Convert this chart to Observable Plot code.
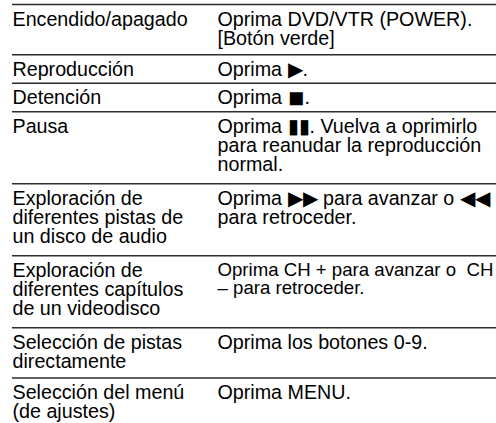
<!DOCTYPE html>
<html>
<head>
<meta charset="utf-8">
<script src="https://cdn.jsdelivr.net/npm/d3@7"></script>
<script src="https://cdn.jsdelivr.net/npm/@observablehq/plot@0.6"></script>
<style>
  html, body { margin: 0; padding: 0; background: #fff; }
</style>
</head>
<body>
<div id="chart"></div>
<script>
// Table content
const labels = [
  "Encendido/apagado",
  "Reproducción",
  "Detención",
  "Pausa",
  "Exploración de\ndiferentes pistas de\nun disco de audio",
  "Exploración de\ndiferentes capítulos\nde un videodisco",
  "Selección de pistas\ndirectamente",
  "Selección del menú\n(de ajustes)"
];
const actions = [
  "Oprima DVD/VTR (POWER).\n[Botón verde]",
  "Oprima \u25B6.",
  "Oprima \u25FC.",
  "Oprima \u25AE\u25AE. Vuelva a oprimirlo\npara reanudar la reproducción\nnormal.",
  "Oprima \u25B6\u25B6 para avanzar o \u25C0\u25C0\npara retroceder.",
  "Oprima CH + para avanzar o  CH\n– para retroceder.",
  "Oprima los botones 0-9.",
  "Oprima MENU."
];
const columns = ["label", "action"];

// Layout derived from line counts
const fontFamily = "'Liberation Sans', Arial, Helvetica, sans-serif";
const baseSize = 19.7;
const width = 496;
const colX = {label: 12, action: 217};
const rowPad = 0.31;      // extra row space, in line units
const unitPx = 21.75;     // pixels per line unit

// shrink a cell's font only if its longest line would overflow its column
const ctx = document.createElement("canvas").getContext("2d");
ctx.font = `${baseSize}px ${fontFamily}`;
const colRight = {label: colX.action - 6, action: width - 3};
function fitSize(text, col) {
  const w = d3.max(text.split("\n"), l => ctx.measureText(l).width);
  const avail = colRight[col] - colX[col];
  return w > avail ? baseSize * avail / w : baseSize;
}

let acc = 0;
const rows = labels.map((label, i) => {
  const n = Math.max(label.split("\n").length, actions[i].split("\n").length);
  const r = {label, action: actions[i], top: acc, n};
  acc += n + rowPad;
  return r;
});
const total = acc;
const cells = rows.flatMap(r => columns.map(c => ({col: c, top: r.top, text: r[c], size: fitSize(r[c], c)})));

const chart = Plot.plot({
  width,
  height: 423,
  margin: 0,
  marginLeft: 12,
  x: {type: "point", domain: columns, range: [colX.label, colX.action], padding: 0, axis: null},
  y: {domain: [0, total], range: [4, 4 + total * unitPx], axis: null},
  style: {fontFamily, background: "#fff", color: "#000"},
  marks: [
    Plot.ruleY(rows, {y: "top", stroke: "#2b2b2b", strokeWidth: 1.6}),
    Plot.text(cells, {
      x: "col", y: "top", text: "text",
      lineAnchor: "top", textAnchor: "start",
      fontSize: "size", lineHeight: 0.975, dy: 7.4, fill: "#000"
    })
  ]
});
document.getElementById("chart").appendChild(chart);
</script>
</body>
</html>
